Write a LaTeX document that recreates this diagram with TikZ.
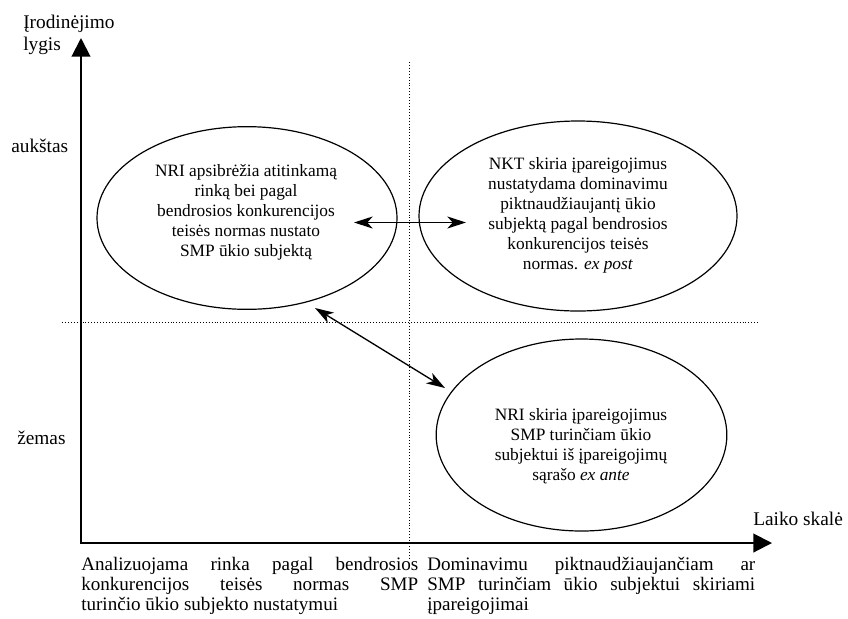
\documentclass[tikz,border=0pt]{standalone}
\usepackage{fontspec}
\setmainfont{Liberation Serif}
\usetikzlibrary{arrows.meta,positioning,shapes.geometric}
\hyphenpenalty=10000

\begin{document}
\begin{tikzpicture}[x=0.75pt,y=-0.75pt,
  oval/.style={draw,ellipse,line width=0.9pt,inner sep=0pt},
  oval text/.style={align=center,font=\fontsize{13}{15}\selectfont,inner sep=0pt},
  axis/.style={{Triangle[length=14pt,width=14pt]}-{Triangle[length=14pt,width=14pt]},line width=1.5pt,line join=miter},
  link/.style={{Stealth[length=14pt,width=9pt,inset=4pt]}-{Stealth[length=14pt,width=9pt,inset=4pt]},line width=1pt},
  guide/.style={line width=0.7pt,dash pattern=on 0.7pt off 1.5pt},
  lbl/.style={font=\fontsize{14.5}{15}\selectfont,inner sep=0pt},
  note/.style={font=\fontsize{14.3}{15}\selectfont,inner sep=0pt,align=justify,anchor=north west}]
  \useasboundingbox (0,0) rectangle (848,618);
  % axes
  \coordinate (origin) at (81,543);
  \coordinate (ytip) at (81,38);
  \coordinate (xtip) at (772,543);
  \draw[axis] (ytip) -- (origin) -- (xtip);
  % quadrant guides
  \coordinate (vtop) at (409,62);
  \coordinate (vbottom) at (409,560);
  \coordinate (hleft) at (62,322);
  \coordinate (hright) at (760,322);
  \draw[guide] (vtop) -- (vbottom);
  \draw[guide] (hleft) -- (hright);
  % ellipses
  \node[oval,minimum width=225pt,minimum height=137pt] (nri) at (247,218) {};
  \node[oval,minimum width=238.5pt,minimum height=142.5pt] (nkt) at (578,216) {};
  \node[oval,minimum width=218pt,minimum height=144pt] (ante) at (581.5,435) {};
  \node[oval text] (nritext) at (246,212) {NRI apsibrėžia atitinkamą\\rinką bei pagal\\bendrosios konkurencijos\\teisės normas nustato\\SMP ūkio subjektą};
  \node[oval text] (nkttext) at (578,215) {NKT skiria įpareigojimus\\nustatydama dominavimu\\piktnaudžiaujantį ūkio\\subjektą pagal bendrosios\\konkurencijos teisės\\normas. \textit{ex post}};
  \node[oval text] (antetext) at (581,446) {NRI skiria įpareigojimus\\SMP turinčiam ūkio\\subjektui iš įpareigojimų\\sąrašo \textit{ex ante}};
  % links
  \coordinate (nriend) at (354,222.5);
  \coordinate (nktend) at (466,222.5);
  \coordinate (nrilow) at (315,308);
  \coordinate (anteend) at (445,388);
  \draw[link] (nriend) -- (nktend);
  \draw[link] (nrilow) -- (anteend);
  % axis labels
  \node[lbl,align=left,anchor=north west] (ylabel) at (23,15) {Įrodinėjimo\\[1.5pt]lygis};
  \node[lbl,anchor=base west] (high) at (11,152) {aukštas};
  \node[lbl,anchor=base west] (low) at (17,444) {žemas};
  \node[lbl,anchor=base west] (xlabel) at (753,525) {Laiko skalė};
  \node[note,text width=252.75pt] (marketnote) at (81,557) {Analizuojama rinka pagal bendrosios\linebreak konkurencijos teisės normas SMP\linebreak turinčio ūkio subjekto nustatymui};
  \node[note,text width=246pt] (dutynote) at (427,557) {Dominavimu piktnaudžiaujančiam ar\linebreak SMP turinčiam ūkio subjektui skiriami\linebreak įpareigojimai};
\end{tikzpicture}
\end{document}
